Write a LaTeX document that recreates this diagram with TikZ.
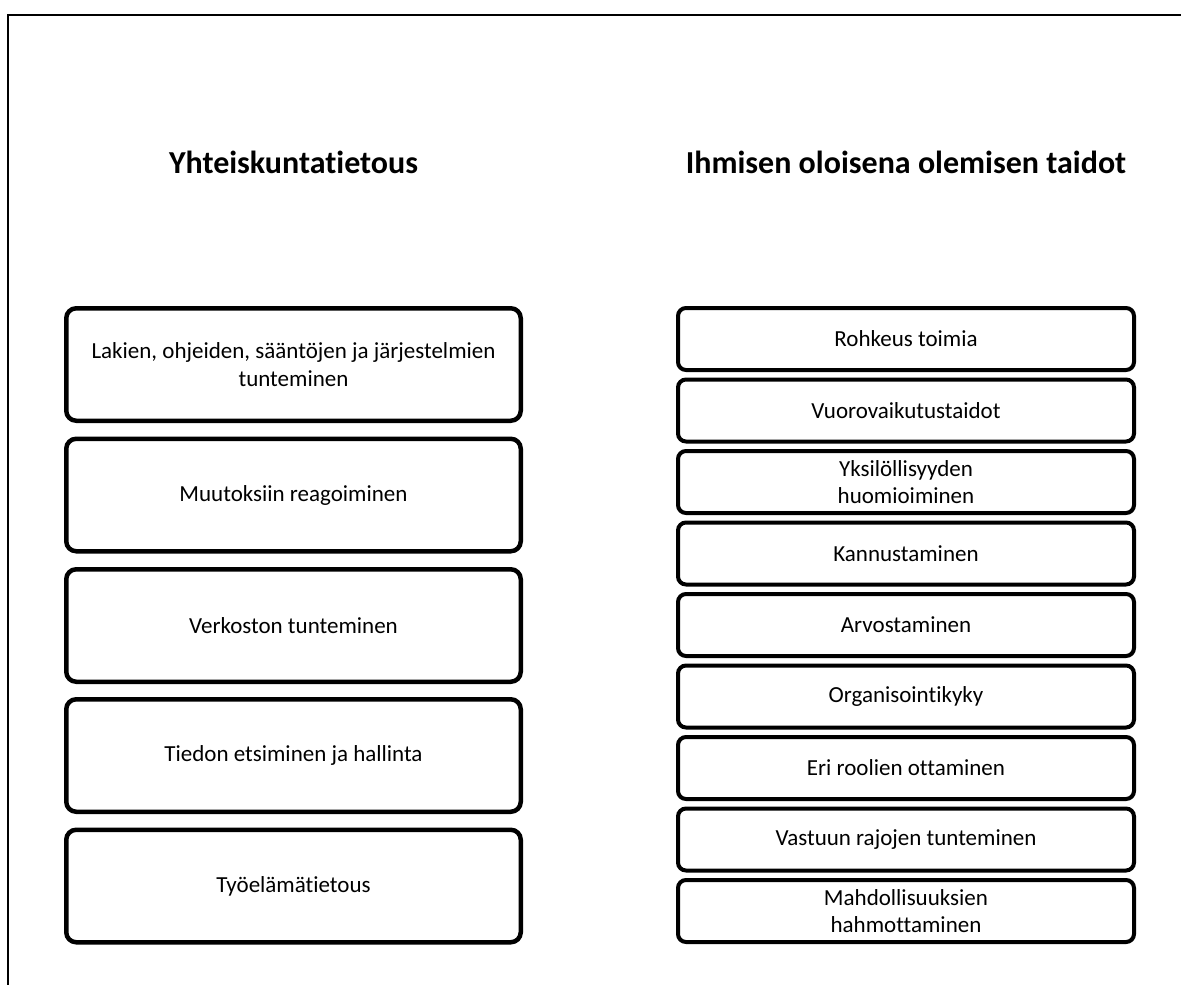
\documentclass[tikz,border=0pt]{standalone}
\usepackage{fontspec}
\setmainfont{Carlito}[Ligatures=NoCommon]
\begin{document}
\begin{tikzpicture}[x=1pt,y=-1pt,
  lbox/.style={draw, line width=4.5pt, rounded corners=10pt, minimum width=454.5pt, minimum height=112.5pt, align=center, font=\fontsize{23}{28}\selectfont, inner sep=0pt},
  rbox/.style={draw, line width=4pt, rounded corners=8pt, minimum width=456pt, minimum height=62pt, align=center, font=\fontsize{23}{27}\selectfont, inner sep=0pt},
  title/.style={font=\bfseries\fontsize{32}{38}\selectfont, anchor=base, inner sep=0pt}]
\useasboundingbox (0,0) rectangle (1181,985);
\coordinate (tl) at (8,15);
\coordinate (tr) at (1181,15);
\coordinate (bl) at (8,985);
\draw[line width=1.5pt] (tr) -- (tl) -- (bl);

\node[title] (t1) at (293.5,173) {Yhteiskuntatietous};
\node[title] (t2) at (906,173) {Ihmisen oloisena olemisen taidot};

\node[lbox] (l1) at (293.5,364.5) {Lakien, ohjeiden, sääntöjen ja järjestelmien\\tunteminen};
\node[lbox] (l2) at (293.5,495) {Muutoksiin reagoiminen};
\node[lbox] (l3) at (293.5,625.5) {Verkoston tunteminen};
\node[lbox] (l4) at (293.5,755.5) {Tiedon etsiminen ja hallinta};
\node[lbox] (l5) at (293.5,886) {Työelämätietous};

\node[rbox] (r1) at (906,339) {Rohkeus toimia};
\node[rbox] (r2) at (906,410.5) {Vuorovaikutustaidot};
\node[rbox] (r3) at (906,482) {Yksilöllisyyden\\huomioiminen};
\node[rbox] (r4) at (906,553.5) {Kannustaminen};
\node[rbox] (r5) at (906,625) {Arvostaminen};
\node[rbox] (r6) at (906,696.5) {Organisointikyky};
\node[rbox] (r7) at (906,768) {Eri roolien ottaminen};
\node[rbox] (r8) at (906,839.5) {Vastuun rajojen tunteminen};
\node[rbox] (r9) at (906,911) {Mahdollisuuksien\\hahmottaminen};
\end{tikzpicture}
\end{document}
